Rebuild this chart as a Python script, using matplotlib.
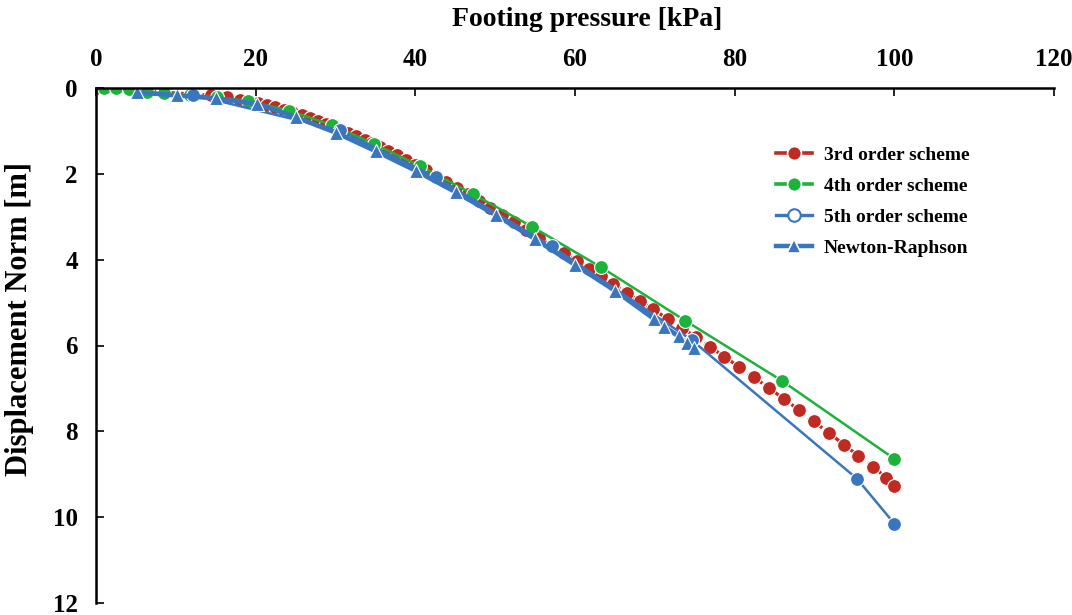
import numpy as np
import matplotlib
matplotlib.use("Agg")
import matplotlib.pyplot as plt
from matplotlib.lines import Line2D

plt.rcParams['font.family'] = ['Liberation Serif', 'DejaVu Serif']
plt.rcParams['font.weight'] = 'bold'

# 3rd order scheme
p3 = [0, 14.4, 16.4, 18.0, 19.2, 20.3, 21.4, 22.4, 23.5, 24.6, 25.8, 26.8, 27.8, 28.8, 29.8,
      30.7, 31.6, 32.6, 33.7, 34.6, 35.6, 36.6, 37.7, 38.8, 40.0, 41.3, 42.6, 43.9, 45.2, 46.6,
      48.0, 49.4, 50.9, 52.4, 53.9, 55.5, 57.1, 58.6, 60.2, 61.8, 63.3, 64.8, 66.5, 68.1, 69.8,
      71.6, 73.4, 75.1, 76.9, 78.7, 80.5, 82.4, 84.3, 86.2, 88.1, 89.9, 91.8, 93.7, 95.5, 97.3,
      99.0, 100]
d3 = [0, 0.17, 0.22, 0.27, 0.31, 0.35, 0.40, 0.45, 0.51, 0.57, 0.64, 0.70, 0.76, 0.83, 0.90,
      0.97, 1.04, 1.12, 1.21, 1.29, 1.38, 1.47, 1.57, 1.67, 1.79, 1.92, 2.05, 2.19, 2.33, 2.48,
      2.63, 2.79, 2.96, 3.13, 3.30, 3.49, 3.67, 3.85, 4.03, 4.21, 4.39, 4.57, 4.77, 4.96, 5.16,
      5.38, 5.59, 5.80, 6.03, 6.26, 6.49, 6.74, 6.99, 7.25, 7.51, 7.77, 8.04, 8.31, 8.57, 8.82,
      9.08, 9.27]

# 4th order scheme
p4 = [1.0, 2.5, 4.1, 6.4, 8.5, 11.8, 15.1, 19.1, 24.2, 29.5, 34.8, 40.6, 47.2, 54.6, 63.3, 73.8, 85.9, 100]
d4 = [0.0, 0.0, 0.03, 0.09, 0.12, 0.16, 0.22, 0.30, 0.53, 0.86, 1.30, 1.82, 2.47, 3.23, 4.18, 5.42, 6.82, 8.64]

# 5th order scheme
p5 = [12.2, 30.6, 42.6, 57.1, 74.6, 95.3, 100]
d5 = [0.16, 0.99, 2.08, 3.69, 5.87, 9.10, 10.15]

# Newton-Raphson
pnr = [5.1, 10.1, 15.0, 20.2, 25.05, 30.06, 35.04, 40.1, 45.1, 50.07, 55.0, 60.0, 65.0, 69.9, 71.2, 73.0, 74.0, 74.9]
dnr = [0.10, 0.17, 0.24, 0.37, 0.68, 1.04, 1.47, 1.93, 2.43, 2.96, 3.52, 4.12, 4.72, 5.38, 5.56, 5.79, 5.94, 6.06]

red = "#BF2A22"
green = "#1DB33A"
blue = "#3A76BD"

fig = plt.figure(figsize=(10.72, 6.15), dpi=100)
ax = fig.add_axes([96/1072, 1-603/615, (1054-96)/1072, (603-88)/615])

ax.plot(p3, d3, color=red, ls=(0, (2.0, 1.2)), lw=2.4, marker='o', ms=10,
        mfc=red, mec='white', mew=0.8)
ax.plot(p4, d4, color=green, lw=1.8, marker='o', ms=10, mfc=green, mec='white', mew=0.8)
ax.plot(p5, d5, color=blue, lw=1.8, marker='o', ms=10, mfc=blue, mec='white', mew=0.8)
ax.plot(pnr, dnr, color=blue, lw=3.4, marker='^', ms=10.5, mfc=blue, mec='white', mew=0.8)

ax.set_xlim(0, 120)
ax.set_ylim(12, 0)
ax.set_xticks(np.arange(0, 121, 20))
ax.set_yticks(np.arange(0, 13, 2))
ax.xaxis.tick_top()
ax.xaxis.set_label_position('top')
for s in ['right', 'bottom']:
    ax.spines[s].set_visible(False)
for s in ['top', 'left']:
    ax.spines[s].set_linewidth(1.8)
ax.tick_params(direction='in', length=6, width=1.2, labelsize=18)
ax.tick_params(axis='x', pad=12)
ax.tick_params(axis='y', pad=13)

ax.set_xlabel('Footing pressure [kPa]', fontsize=20, fontweight='bold')
ax.xaxis.set_label_coords(0.513, 1.0 + (88-20)/515, transform=ax.transAxes)
ax.set_ylabel('Displacement Norm [m]', fontsize=22, fontweight='bold')
ax.yaxis.set_label_coords(-(96-20)/958, (603-319)/515)
ax.xaxis.label.set_va('center')
ax.yaxis.label.set_va('center')

handles = [
    Line2D([], [], color=red, lw=2.6, marker='o', ms=10, mfc=red, mec='white', mew=1.2),
    Line2D([], [], color=green, lw=2.6, marker='o', ms=10, mfc=green, mec='white', mew=1.2),
    Line2D([], [], color=blue, lw=2.4, marker='o', ms=9, mfc='white', mec=blue, mew=1.5),
    Line2D([], [], color=blue, lw=3.2, marker='^', ms=10, mfc=blue, mec='white', mew=1.2),
]
labels = ['3rd order scheme', '4th order scheme', '5th order scheme', 'Newton-Raphson']
fig.legend(handles, labels, loc='upper left', bbox_to_anchor=(776/1072, 1-146/615),
           frameon=False, fontsize=14, handlelength=1.85, handletextpad=0.6,
           labelspacing=0.7, borderaxespad=0, borderpad=0)

fig.savefig('out.png', dpi=100)
